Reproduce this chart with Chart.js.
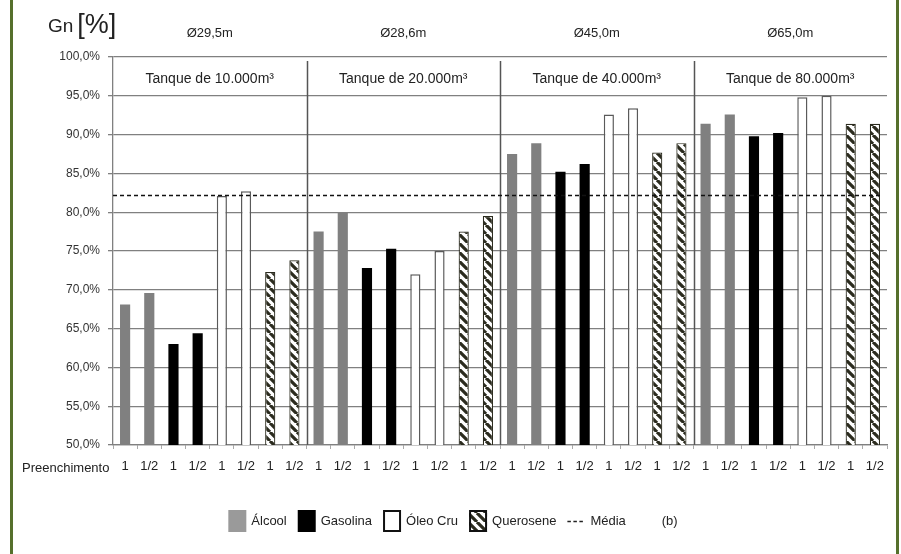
<!DOCTYPE html>
<html><head><meta charset="utf-8">
<script src="https://cdn.jsdelivr.net/npm/chart.js@4.4.1/dist/chart.umd.min.js"></script>
<style>
html,body{margin:0;padding:0;background:#fff;}
#wrap{position:relative;width:901px;height:554px;overflow:hidden;background:#fff;}
#c{position:absolute;left:0;top:0;}
.edge{position:absolute;top:0;width:3px;height:554px;background:#56702c;}
</style></head><body>
<div id="wrap"><canvas id="c" width="901" height="554"></canvas>
<div class="edge" style="left:10px"></div><div class="edge" style="left:896px"></div></div>
<script>
// ---- data ----
const tanks = ['Tanque de 10.000m³', 'Tanque de 20.000m³', 'Tanque de 40.000m³', 'Tanque de 80.000m³'];
const diameters = ['Ø29,5m', 'Ø28,6m', 'Ø45,0m', 'Ø65,0m'];
const fluids = ['Álcool', 'Gasolina', 'Óleo Cru', 'Querosene'];
const fillings = ['1', '1/2'];
// values per tank, in order [filling 1, filling 1/2]
const alcool    = [68.1, 69.6, 77.5, 79.9, 87.5, 88.9, 91.4, 92.6];
const gasolina  = [63.0, 64.4, 72.8, 75.3, 85.2, 86.2, 89.8, 90.2];
const oleoCru   = [82.1, 82.7, 72.0, 75.0, 92.6, 93.4, 94.8, 95.0];
const querosene = [72.3, 73.8, 77.5, 79.5, 87.7, 88.9, 91.4, 91.4];
const media = 82.2;
const yTickValues = [50, 55, 60, 65, 70, 75, 80, 85, 90, 95, 100];
const xTitle = 'Preenchimento';
const yTitleA = 'Gn';
const yTitleB = '[%]';
const mediaLabel = 'Média';
const panelNote = '(b)';

// ---- build ----
const FONT = "'Liberation Sans', Arial, sans-serif";
const seriesList = [alcool, gasolina, oleoCru, querosene];
const labels = [];
tanks.forEach(() => fluids.forEach(() => fillings.forEach(f => labels.push(f))));
const perTank = fluids.length * fillings.length;
function expand(series, fi) {
  const out = [];
  tanks.forEach((t, ti) => fluids.forEach((f, fj) => fillings.forEach((k, ki) => {
    out.push(fj === fi ? series[ti * fillings.length + ki] : null);
  })));
  return out;
}
const ctx = document.getElementById('c').getContext('2d');
function hatch() {
  const n = 9;
  const c = document.createElement('canvas'); c.width = n; c.height = n;
  const g = c.getContext('2d');
  g.fillStyle = '#fff'; g.fillRect(0, 0, n, n);
  g.strokeStyle = '#2b2b1e'; g.lineWidth = 3.2; g.beginPath();
  for (const k of [-n, 0, n]) { g.moveTo(k, 0); g.lineTo(k + n, n); }
  g.stroke();
  return ctx.createPattern(c, 'repeat');
}
const hatchPat = hatch();
const styles = [
  {backgroundColor: '#808080', borderColor: '#808080', borderWidth: 0},
  {backgroundColor: '#000000', borderColor: '#000000', borderWidth: 0},
  {backgroundColor: '#ffffff', borderColor: '#5a5a5a', borderWidth: 1.5},
  {backgroundColor: hatchPat, borderColor: '#2b2b1e', borderWidth: 1.2}
];
const datasets = fluids.map((name, i) => Object.assign({label: name, data: expand(seriesList[i], i)}, styles[i]));

const decor = {
  id: 'decor',
  beforeDatasetsDraw(chart) {
    const {ctx, chartArea: a, scales: {x}} = chart;
    ctx.save(); ctx.strokeStyle = '#555'; ctx.lineWidth = 1.5;
    for (let g = 1; g < tanks.length; g++) {
      const px = Math.round((x.getPixelForValue(g * perTank - 1) + x.getPixelForValue(g * perTank)) / 2) + 0.5;
      ctx.beginPath(); ctx.moveTo(px, a.top + 4); ctx.lineTo(px, a.bottom); ctx.stroke();
    }
    ctx.restore();
  },
  afterDatasetsDraw(chart) {
    const {ctx, chartArea: a, scales: {y}} = chart;
    const py = Math.round(y.getPixelForValue(media)) + 0.5;
    ctx.save(); ctx.strokeStyle = '#111'; ctx.lineWidth = 1.6; ctx.setLineDash([4, 3]);
    ctx.beginPath(); ctx.moveTo(a.left, py); ctx.lineTo(a.right - 5, py); ctx.stroke();
    ctx.restore();
  },
  afterDraw(chart) {
    const {ctx, chartArea: a, scales: {x}} = chart;
    ctx.save();
    ctx.fillStyle = '#222'; ctx.textBaseline = 'middle'; ctx.textAlign = 'center';
    tanks.forEach((t, g) => {
      const cx = (x.getPixelForValue(g * perTank) + x.getPixelForValue(g * perTank + perTank - 1)) / 2;
      ctx.font = '14px ' + FONT;
      ctx.fillText(t, cx, 79);
      ctx.font = '13px ' + FONT;
      ctx.fillText(diameters[g], cx, 33);
    });
    // y title
    ctx.textAlign = 'left'; ctx.textBaseline = 'alphabetic';
    ctx.font = '19px ' + FONT; ctx.fillText(yTitleA, 48, 32);
    const gw = ctx.measureText(yTitleA).width;
    ctx.font = '27px ' + FONT; ctx.fillText(yTitleB, 48 + gw + 4, 33);
    // x title
    ctx.textBaseline = 'middle'; ctx.font = '13px ' + FONT;
    ctx.fillText(xTitle, 22, 468);
    // legend
    const ly = 521, sw = 18, sh = 22;
    const items = fluids.map((f, i) => ({type: 'box', i, text: f})).concat([{type: 'line', text: mediaLabel}]);
    ctx.font = '13px ' + FONT;
    const widths = items.map(it => sw + 5 + ctx.measureText(it.text).width);
    const gap = 11, noteGap = 36;
    const noteW = ctx.measureText(panelNote).width;
    const total = widths.reduce((s, w) => s + w, 0) + gap * (items.length - 1) + noteGap + noteW;
    let lx = 453 - total / 2;
    items.forEach((it, k) => {
      if (it.type === 'box') {
        const st = styles[it.i];
        ctx.fillStyle = it.i === 0 ? '#9a9a9a' : st.backgroundColor;
        ctx.fillRect(lx, ly - sh / 2, sw, sh);
        if (it.i >= 2) { ctx.strokeStyle = '#111'; ctx.lineWidth = 2; ctx.strokeRect(lx + 1, ly - sh / 2 + 1, sw - 2, sh - 2); }
      } else {
        ctx.strokeStyle = '#222'; ctx.lineWidth = 1.4; ctx.setLineDash([3.5, 2.5]);
        ctx.beginPath(); ctx.moveTo(lx, ly + 0.5); ctx.lineTo(lx + sw, ly + 0.5); ctx.stroke();
        ctx.setLineDash([]);
      }
      ctx.fillStyle = '#222'; ctx.textAlign = 'left';
      ctx.fillText(it.text, lx + sw + 5, ly);
      lx += widths[k] + gap;
    });
    ctx.fillText(panelNote, lx - gap + noteGap, ly);
    ctx.restore();
  }
};

new Chart(ctx, {
  type: 'bar',
  data: {labels, datasets},
  options: {
    responsive: false, animation: false,
    layout: {padding: {top: 57, right: 14, left: 0, bottom: 0}},
    datasets: {bar: {grouped: false, barPercentage: 0.42, categoryPercentage: 1}},
    plugins: {legend: {display: false}, tooltip: {enabled: false}},
    scales: {
      x: {
        afterFit(s) { s.height = 109; },
        grid: {display: true, drawOnChartArea: false, drawTicks: true, tickLength: 4, offset: true, color: '#aaa'},
        border: {display: true, color: '#808080', width: 1.3},
        ticks: {font: {family: FONT, size: 13}, color: '#222', padding: 10, maxRotation: 0, autoSkip: false}
      },
      y: {
        min: 50, max: 100,
        afterFit(s) { s.width = 113; },
        afterBuildTicks(s) { s.ticks = yTickValues.map(v => ({value: v})); },
        grid: {color: '#808080', lineWidth: 1.3, drawTicks: true, tickLength: 5},
        border: {display: true, color: '#808080', width: 1.3},
        ticks: {font: {family: FONT, size: 12}, color: '#333', padding: 8,
          callback: v => v.toFixed(1).replace('.', ',') + '%'}
      }
    }
  },
  plugins: [decor]
});
</script>
</body></html>
